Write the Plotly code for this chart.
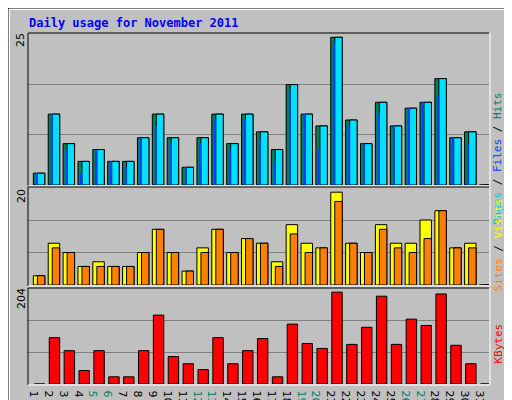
import plotly.graph_objects as go

days = list(range(1, 32))
hits  = [2,12,7,4,6,4,4,8,12,8,3,8,12,7,12,9,6,17,12,10,25,11,7,14,10,13,14,18,8,9,0]
files = [2,12,7,4,6,4,4,8,12,8,3,8,12,7,12,9,6,17,12,10,25,11,7,14,10,13,14,18,8,9,0]
pages = [2,12,6,2,6,4,3,8,10,7,3,7,11,6,11,8,4,16,12,6,24,10,7,12,10,13,14,15,8,7,0]
sites = [2,9,7,4,5,4,4,7,12,7,3,8,12,7,10,9,5,13,9,8,20,9,7,13,9,9,14,16,8,9,0]
visits= [2,8,7,4,4,4,4,7,12,7,3,7,12,7,10,9,4,11,7,8,18,9,7,12,8,7,10,16,8,8,0]
kbytes= [0,103,74,30,74,16,16,74,153,61,45,32,103,45,74,101,16,133,90,79,204,88,126,195,88,144,130,200,86,45,0]
weekend = [5,6,12,13,19,20,26,27]

L, R, T, B = 20, 481, 26, 376
W, H = R-L, B-T
def px(x): return (x-L)/W
def py(y): return (B-y)/H

fig = go.Figure()
ln = dict(color="black", width=1)
fig.add_bar(x=days, y=hits, offset=-0.14, width=0.77, marker=dict(color="#00805F", line=ln), yaxis="y")
fig.add_bar(x=days, y=files, offset=0.13, width=0.5, marker=dict(color="#00E0FF", line=ln), yaxis="y")
fig.add_bar(x=days, y=pages, offset=0.06, width=0.08, marker=dict(color="#0040FF", line=dict(width=0)), yaxis="y")
fig.add_bar(x=days, y=sites, offset=-0.14, width=0.77, marker=dict(color="#FFFF00", line=ln), yaxis="y2")
fig.add_bar(x=days, y=visits, offset=0.13, width=0.5, marker=dict(color="#FF8000", line=ln), yaxis="y2")
fig.add_bar(x=days, y=kbytes, offset=-0.07, width=0.7, marker=dict(color="#FF0000", line=ln), yaxis="y3")

ticktext = [f'<span style="color:#00805F">{d}</span>' if d in weekend else str(d) for d in days]

r1, r2, r3 = 25.56, 20.9, 211
def yax(dom, r):
    return dict(domain=dom, range=[0, r], tick0=0, dtick=r/3, showticklabels=False, automargin=False,
                gridcolor="#808080", gridwidth=1, zeroline=False, showline=False, fixedrange=True)

fig.update_layout(
    width=512, height=400, margin=dict(l=L, r=512-R, t=T, b=400-B, autoexpand=False),
    paper_bgcolor="#C0C0C0", plot_bgcolor="#C0C0C0", barmode="overlay", showlegend=False,
    font=dict(family="DejaVu Sans Mono", size=11, color="black"),
    xaxis=dict(range=[0.5, 31.5], tickvals=days, ticktext=ticktext, showgrid=False, anchor="y3",
               automargin=False, zeroline=False, ticks="", tickfont=dict(size=11, family="DejaVu Sans"),
               fixedrange=True),
    yaxis=yax([py(177), 1], r1),
    yaxis2=dict(**yax([py(277), py(180)], r2), anchor="x"),
    yaxis3=dict(**yax([0, py(281)], r3), anchor="x"),
)

shapes = []
def line(x0, y0, x1, y1, color, width=1):
    shapes.append(dict(type="line", xref="paper", yref="paper", x0=px(x0), x1=px(x1), y0=py(y0), y1=py(y1),
                       line=dict(color=color, width=width), layer="above"))
for (t, b) in [(25, 178), (179, 278), (280, 377)]:
    line(L, t, R, t, "black"); line(L, t, L, b, "black")
    line(L, b, R+1, b, "white"); line(R+1, t, R+1, b, "white")
line(1, 1, 505, 1, "white", 2); line(1, 1, 1, 393, "white", 2)
line(0, 396, 511, 396, "#808080", 6); line(508, 4, 508, 399, "#808080", 6)
shapes.append(dict(type="rect", xref="paper", yref="paper", x0=px(0), x1=px(511), y0=py(0), y1=py(399),
                   line=dict(color="black", width=1), layer="above"))
fig.update_layout(shapes=shapes)

ann = []
ann.append(dict(text="<b>Daily usage for November 2011</b>", x=px(19), y=py(15), xref="paper", yref="paper",
                xanchor="left", yanchor="middle", showarrow=False, font=dict(color="#0000FF", size=12)))
for txt, y in [("25", 32), ("20", 188), ("204", 291)]:
    ann.append(dict(text=txt, x=px(13), y=py(y), xref="paper", yref="paper", textangle=-90,
                    xanchor="center", yanchor="middle", showarrow=False, font=dict(size=11, family="DejaVu Sans")))
ann.append(dict(text='<span style="color:#00C8E6">Pages</span> / <span style="color:#0040FF">Files</span> / <span style="color:#00805F">Hits</span>',
                x=px(498), y=py(82), xref="paper", yref="paper", textangle=-90, showarrow=False, font=dict(size=11)))
ann.append(dict(text='<span style="color:#FF8000">Sites</span> / <span style="color:#FFFF00">Visits</span>',
                x=px(498), y=py(237), xref="paper", yref="paper", textangle=-90, showarrow=False, font=dict(size=11)))
ann.append(dict(text='<span style="color:#FF0000">KBytes</span>',
                x=px(498), y=py(358), xref="paper", yref="paper", textangle=-90, showarrow=False, font=dict(size=11)))
fig.update_layout(annotations=ann)

fig.write_html("out.html", config={"displayModeBar": False})
